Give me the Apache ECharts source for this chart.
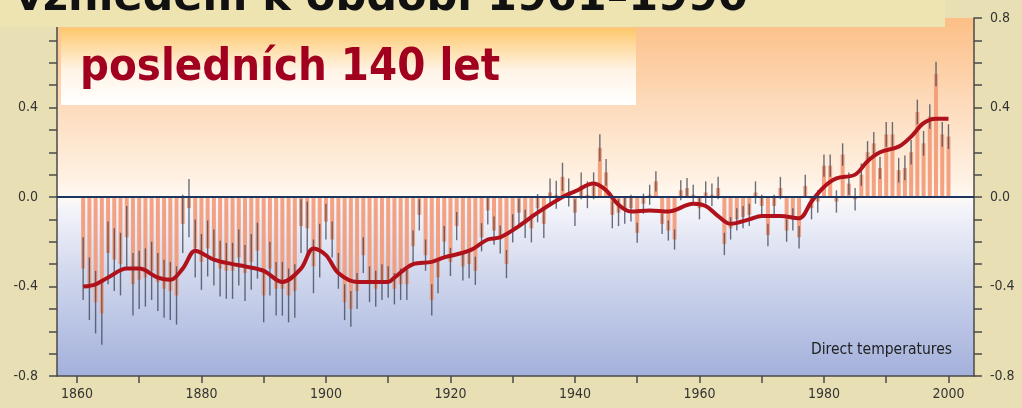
<!DOCTYPE html>
<html>
<head>
<meta charset="utf-8">
<script src="https://cdn.jsdelivr.net/npm/echarts@6/dist/echarts.min.js"></script>
<style>
  html, body { margin: 0; padding: 0; background: #e8e0b4; }
  #chart { width: 1022px; height: 408px; }
</style>
</head>
<body>
<div id="chart"></div>
<script>
// Annual global temperature anomalies (°C, relative to 1961–1990), 1861–2000
const firstYear = 1861;
const anomalies = [
  -0.32, -0.41, -0.47, -0.52, -0.25, -0.28, -0.30, -0.18, -0.39, -0.37,
  -0.36, -0.33, -0.38, -0.41, -0.42, -0.44, -0.12, -0.05, -0.23, -0.29,
  -0.23, -0.27, -0.32, -0.33, -0.33, -0.27, -0.34, -0.29, -0.24, -0.44,
  -0.32, -0.41, -0.41, -0.44, -0.42, -0.13, -0.14, -0.31, -0.24, -0.11,
  -0.19, -0.33, -0.47, -0.50, -0.42, -0.26, -0.39, -0.41, -0.38, -0.38,
  -0.41, -0.39, -0.39, -0.22, -0.08, -0.26, -0.46, -0.36, -0.20, -0.29,
  -0.13, -0.31, -0.30, -0.33, -0.18, -0.06, -0.15, -0.19, -0.30, -0.14,
  -0.07, -0.12, -0.14, -0.05, -0.12,  0.02,  0.01,  0.09,  0.02, -0.07,
   0.05,  0.01,  0.05,  0.22,  0.11, -0.08, -0.07, -0.06, -0.05, -0.16,
  -0.03,  0.01,  0.07, -0.12, -0.15, -0.19,  0.03,  0.04,  0.01, -0.05,
   0.02,  0.01,  0.04, -0.21, -0.14, -0.10, -0.09, -0.08,  0.02, -0.04,
  -0.17, -0.04,  0.04, -0.15, -0.10, -0.18,  0.05, -0.05, -0.02,  0.14,
   0.14, -0.02,  0.19,  0.06, -0.01,  0.10,  0.20,  0.24,  0.13,  0.28,
   0.28,  0.12,  0.13,  0.20,  0.38,  0.24,  0.36,  0.55,  0.28,  0.27
];

// Half-width of the uncertainty range per decade (1860s … 1990s)
const decadeUncertainty = [0.14, 0.13, 0.125, 0.12, 0.08, 0.07, 0.063, 0.063, 0.06, 0.045, 0.05, 0.05, 0.05, 0.055];

// Decadal-smoothed curve
const smoothYears  = [1861, 1863, 1865, 1868, 1870, 1873, 1875, 1877, 1879, 1880, 1882, 1885, 1887, 1890, 1893, 1896, 1898, 1900, 1902, 1905, 1910, 1911, 1914, 1917, 1919, 1923, 1926, 1928, 1931, 1934, 1938, 1940, 1943, 1945, 1947, 1949, 1952, 1955, 1959, 1961, 1963, 1965, 1968, 1970, 1973, 1976, 1978, 1980, 1982, 1985, 1987, 1989, 1992, 1994, 1996, 1998, 2000];
const smoothValues = [-0.40, -0.39, -0.36, -0.32, -0.32, -0.36, -0.37, -0.32, -0.24, -0.25, -0.28, -0.30, -0.31, -0.33, -0.38, -0.32, -0.23, -0.26, -0.34, -0.38, -0.38, -0.36, -0.30, -0.29, -0.27, -0.24, -0.19, -0.18, -0.13, -0.07, 0.00, 0.025, 0.06, 0.03, -0.035, -0.065, -0.06, -0.065, -0.03, -0.04, -0.085, -0.12, -0.10, -0.085, -0.085, -0.095, -0.02, 0.045, 0.083, 0.10, 0.16, 0.20, 0.225, 0.27, 0.33, 0.35, 0.35];

// Axis ticks and labels
const xTickYears  = [1860, 1870, 1880, 1890, 1900, 1910, 1920, 1930, 1940, 1950, 1960, 1970, 1980, 1990, 2000];
const xLabelYears = [1860, 1880, 1900, 1920, 1940, 1960, 1980, 2000];

const titleText = 'vzhledem k období 1961–1990';
const subtitleText = 'posledních 140 let';
const noteText = 'Direct temperatures';

const barData = anomalies.map((v, i) => [firstYear + i, v]);
const errData = anomalies.map((v, i) => {
  const year = firstYear + i;
  const d = Math.min(Math.floor((year - 1860) / 10), decadeUncertainty.length - 1);
  return [year, v, decadeUncertainty[d]];
});
const smoothData = smoothYears.map((y, i) => [y, smoothValues[i]]);

const axisFont = '"Liberation Sans Narrow", "DejaVu Sans Condensed", sans-serif';
const axisColor = '#4a4a4a';

function yAxisFor(position, margin) {
  return {
    type: 'value', position: position, min: -0.8, max: 0.8, interval: 0.4,
    axisLine: { show: true, onZero: false, lineStyle: { color: axisColor, width: 1.5 } },
    axisTick: { show: true, inside: false, length: 8, lineStyle: { color: axisColor, width: 1.5 } },
    minorTick: { show: true, splitNumber: 4, length: 8, lineStyle: { color: axisColor, width: 1.5 } },
    splitLine: { show: false },
    axisLabel: { color: '#333', fontFamily: axisFont, fontSize: 14, margin: margin, formatter: v => v.toFixed(1) }
  };
}

const chart = echarts.init(document.getElementById('chart'), null, { renderer: 'canvas' });
chart.setOption({
  animation: false,
  backgroundColor: '#e8e0b4',
  grid: {
    left: 57, right: 48, top: 18, bottom: 32, show: true, borderWidth: 0,
    backgroundColor: new echarts.graphic.LinearGradient(0, 0, 0, 1, [
      { offset: 0, color: '#fcbf86' },
      { offset: 0.25, color: '#fddcbd' },
      { offset: 0.45, color: '#fff1e3' },
      { offset: 0.5, color: '#fffaf3' },
      { offset: 0.53, color: '#f4f4fa' },
      { offset: 0.72, color: '#d0d7ed' },
      { offset: 1, color: '#a3b0db' }
    ])
  },
  xAxis: {
    type: 'value', position: 'bottom', min: 1856.8, max: 2004.1,
    axisLine: { show: true, onZero: false, lineStyle: { color: axisColor, width: 1.5 } },
    axisTick: { show: true, inside: false, customValues: xTickYears, length: 7, lineStyle: { color: axisColor, width: 1.5 } },
    axisLabel: { customValues: xLabelYears, color: '#333', fontFamily: axisFont, fontSize: 14, margin: 11, formatter: v => String(v) },
    splitLine: { show: false }
  },
  yAxis: [yAxisFor('left', 19), yAxisFor('right', 16)],
  graphic: [
    { type: 'rect', z: 100, shape: { x: 0, y: 0, width: 945, height: 27 }, style: { fill: '#ede4b2' } },
    { type: 'text', z: 101, x: 15, y: -1, style: { text: titleText, fill: '#111', font: 'bold 43px "DejaVu Sans", sans-serif', verticalAlign: 'middle' } },
    { type: 'rect', z: 100, shape: { x: 61, y: 28, width: 575, height: 77 },
      style: { fill: new echarts.graphic.LinearGradient(0, 0, 0, 1, [
        { offset: 0, color: '#fdc86c' }, { offset: 0.55, color: '#fff4e6' }, { offset: 1, color: '#ffffff' }
      ]) } },
    { type: 'text', z: 101, x: 80, y: 68, style: { text: subtitleText, fill: '#a2001f', font: 'bold 45px "DejaVu Sans Condensed", "DejaVu Sans", sans-serif', verticalAlign: 'middle' } },
    { type: 'text', z: 101, x: 952, y: 350, style: { text: noteText, fill: '#222', font: '15.5px "Liberation Sans Narrow", "DejaVu Sans Condensed", sans-serif', align: 'right', verticalAlign: 'middle' } }
  ],
  series: [
    {
      type: 'bar', data: barData, barWidth: 4, z: 2,
      itemStyle: { color: '#f39a78', opacity: 0.92 },
      markLine: {
        silent: true, symbol: 'none', label: { show: false },
        lineStyle: { color: '#1d3560', width: 2, type: 'solid' },
        data: [{ yAxis: 0 }]
      }
    },
    {
      type: 'custom', data: errData, z: 3,
      encode: { x: 0, y: 1 },
      renderItem: (params, api) => {
        const x = api.value(0), v = api.value(1), u = api.value(2);
        const p1 = api.coord([x, v - u]);
        const p2 = api.coord([x, v + u]);
        return { type: 'line', shape: { x1: p1[0], y1: p1[1], x2: p2[0], y2: p2[1] },
                 style: { stroke: '#3b4254', lineWidth: 1.4, opacity: 0.75 } };
      }
    },
    {
      type: 'line', data: smoothData, smooth: 0.35, showSymbol: false, z: 4,
      lineStyle: { color: '#b0121c', width: 4 }
    }
  ]
});
</script>
</body>
</html>
